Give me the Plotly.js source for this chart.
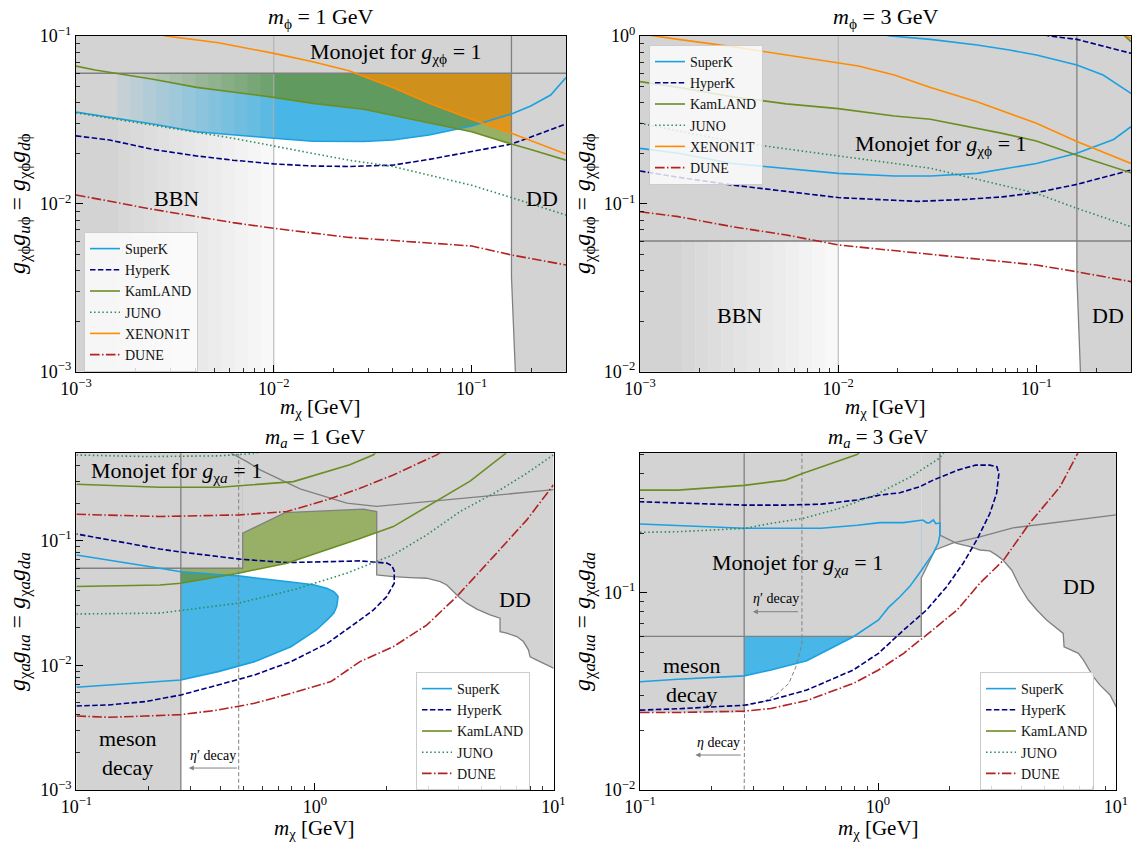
<!DOCTYPE html>
<html><head><meta charset="utf-8">
<script src="https://cdn.plot.ly/plotly-3.0.1.min.js"></script>
<style>html,body{margin:0;padding:0;background:#fff}#chart{width:1133px;height:843px}</style>
</head><body><div id="chart"></div>
<script>
// ---------------- DATA ----------------
// boundaries
const MONO = 0.06, BBN_EDGE = 0.01, BBN_START = 0.00163, MESON = 0.274, ETAP = 0.479;

// Panel A: m_phi = 1 GeV (top-left)
const A_superk_x = [0.001,0.00148,0.00245,0.00407,0.00622,0.01,0.01575,0.0285,0.0399,0.061,0.1,0.159,0.199,0.251,0.3];
const A_superk_y = [0.0352,0.0328,0.0299,0.0269,0.0257,0.0246,0.0236,0.0235,0.0240,0.0257,0.0291,0.0343,0.0383,0.0445,0.0565];
const A_hyperk_x = [0.001,0.00148,0.00245,0.00407,0.00622,0.01,0.01575,0.024,0.0399,0.061,0.1,0.159,0.3];
const A_hyperk_y = [0.0254,0.0240,0.0211,0.0193,0.0182,0.0173,0.0168,0.0167,0.0170,0.0184,0.0205,0.0227,0.0299];
const A_kam_x = [0.001,0.00125,0.00245,0.00407,0.01,0.01575,0.0285,0.061,0.1,0.159,0.199,0.3];
const A_kam_y = [0.0662,0.0627,0.0552,0.0494,0.0431,0.0397,0.0366,0.0305,0.0269,0.0227,0.0211,0.0182];
const A_juno_x = [0.001,0.00245,0.00622,0.01,0.024,0.0399,0.1,0.159,0.3];
const A_juno_y = [0.0349,0.0295,0.0246,0.0221,0.0182,0.0167,0.0129,0.0109,0.00858];
const A_xenon_x = [0.002,0.00284,0.00525,0.01,0.01575,0.024,0.0399,0.061,0.1,0.159,0.3];
const A_xenon_y = [0.112,0.1,0.0912,0.0788,0.0703,0.0621,0.0494,0.0397,0.0319,0.0263,0.0198];
const A_dune_x = [0.001,0.00245,0.00622,0.01,0.024,0.0399,0.1,0.159,0.3];
const A_dune_y = [0.0113,0.00927,0.00773,0.00715,0.00631,0.00604,0.00561,0.00496,0.00432];
const A_dd_x = [0.159,0.159,0.167];
const A_dd_y = [0.12,0.00368,0.0009];

// Panel B: m_phi = 3 GeV (top-right)
const B_superk_lo_x = [0.001,0.00156,0.00292,0.00548,0.01,0.0192,0.0292,0.0502,0.1,0.16,0.245,0.3];
const B_superk_lo_y = [0.214,0.200,0.174,0.163,0.152,0.1465,0.1465,0.152,0.174,0.200,0.242,0.288];
const B_superk_up_x = [0.015,0.0184,0.0292,0.0502,0.0731,0.1,0.16,0.217,0.3];
const B_superk_up_y = [1.04,1.0,0.955,0.884,0.825,0.77,0.672,0.586,0.455];
const B_hyperk_lo_x = [0.001,0.00156,0.00292,0.00548,0.01,0.0192,0.0253,0.0443,0.0673,0.1,0.16,0.3];
const B_hyperk_lo_y = [0.157,0.144,0.1295,0.118,0.109,0.105,0.1035,0.1064,0.110,0.1166,0.1306,0.159];
const B_hyperk_up_x = [0.1,0.116,0.16,0.3];
const B_hyperk_up_y = [1.05,1.0,0.955,0.789];
const B_kam_x = [0.001,0.00156,0.00292,0.00548,0.01,0.0192,0.0292,0.0502,0.0673,0.1,0.16,0.3];
const B_kam_y = [0.535,0.494,0.435,0.394,0.369,0.334,0.319,0.282,0.263,0.237,0.195,0.153];
const B_kam_up_x = [0.265,0.279,0.3];
const B_kam_up_y = [1.06,1.0,0.925];
const B_juno_x = [0.001,0.00292,0.01,0.0292,0.1,0.16,0.3];
const B_juno_y = [0.302,0.235,0.193,0.163,0.1155,0.094,0.0731];
const B_xenon_x = [0.001,0.00117,0.00156,0.00292,0.00548,0.01,0.01264,0.0192,0.0292,0.0502,0.1,0.16,0.3];
const B_xenon_y = [1.03,1.0,0.955,0.864,0.77,0.694,0.663,0.586,0.494,0.406,0.302,0.235,0.174];
const B_xenon_up_x = [0.27,0.284,0.3];
const B_xenon_up_y = [1.05,1.0,0.968];
const B_dune_x = [0.001,0.00156,0.00292,0.00548,0.01,0.0192,0.0292,0.0502,0.1,0.16,0.3];
const B_dune_y = [0.0898,0.0839,0.0731,0.0652,0.0569,0.0526,0.0496,0.0467,0.0432,0.0394,0.0344];
const B_dd_x = [0.16,0.16,0.167];
const B_dd_y = [1.2,0.0368,0.0095];

// Panel C: m_a = 1 GeV (bottom-left)
const C_superk_x = [0.1,0.137,0.195,0.274,0.393,0.558,0.793,1.014,1.145,1.20,1.234,1.25,1.234,1.20,1.12,0.985,0.793,0.558,0.478,0.393,0.274,0.224,0.1];
const C_superk_y = [0.00667,0.00696,0.00726,0.00762,0.0089,0.0107,0.0141,0.0192,0.0239,0.0262,0.0296,0.0356,0.0367,0.039,0.0415,0.0442,0.0465,0.0505,0.0521,0.0535,0.0562,0.060,0.0767];
const C_hyperk_x = [0.1,0.137,0.195,0.274,0.393,0.558,0.793,1.127,1.545,1.76,2.0,2.15,2.15,2.1,2.0,1.545,0.762,0.485,0.274,0.224,0.1];
const C_hyperk_y = [0.00472,0.00481,0.00512,0.00578,0.00696,0.00836,0.0107,0.015,0.0231,0.0278,0.0356,0.0455,0.057,0.063,0.066,0.0687,0.0666,0.071,0.081,0.0855,0.113];
const C_kam_lo_x = [0.1,0.224,0.274,0.478,0.762,1.12,1.545,2.13,3.14,4.47,6.3,7.2];
const C_kam_lo_y = [0.0428,0.0441,0.0455,0.0548,0.0659,0.0842,0.104,0.1295,0.1995,0.30,0.5,0.62];
const C_kam_up_x = [1.9,1.76,1.40,0.812,0.40,0.224,0.1];
const C_kam_up_y = [0.58,0.487,0.405,0.297,0.268,0.268,0.283];
const C_juno_lo_x = [0.1,0.224,0.478,0.812,1.36,2.13,2.94,4.06,5.97,7.73,10];
const C_juno_lo_y = [0.0258,0.0262,0.0315,0.0403,0.0548,0.0768,0.111,0.171,0.255,0.347,0.487];
const C_juno_up_x = [0.1,0.137,0.195,0.393,0.558,0.65];
const C_juno_up_y = [0.486,0.478,0.472,0.478,0.5,0.53];
const C_dune_lo_x = [0.1,0.137,0.195,0.274,0.393,0.558,0.793,1.167,1.545,2.13,2.94,3.93,5.6,7.73,10];
const C_dune_lo_y = [0.00392,0.00383,0.00392,0.00402,0.00438,0.00496,0.00596,0.0074,0.0107,0.0141,0.021,0.0356,0.0744,0.1466,0.28];
const C_dune_up_x = [0.1,0.224,0.485,0.762,1.12,1.545,2.13,3.24,3.6];
const C_dune_up_y = [0.1626,0.156,0.1607,0.171,0.212,0.263,0.336,0.487,0.56];
const C_plat_x = [0.09,0.498,0.498,0.749,1.596,1.815,1.815];
const C_plat_y = [0.06,0.06,0.1146,0.1677,0.1786,0.171,0.0531];
const C_dd_x = [2.13,2.50,2.94,3.35,3.57,3.75,3.99,4.33,4.77,5.42,5.97,5.97,6.37,7.02,7.48,7.85,7.98,8.51,9.37,10,10.5];
const C_dd_y = [0.0514,0.0505,0.0499,0.0469,0.0441,0.0402,0.0356,0.0315,0.0282,0.0254,0.0239,0.0186,0.0181,0.017,0.0155,0.0133,0.0117,0.011,0.0101,0.0095,0.0093];
const C_top_x = [0.43,0.448,0.518,0.589,0.866,1.36,1.815,10.5];
const C_top_y = [0.55,0.5,0.43,0.369,0.26,0.1995,0.188,0.258];

// Panel D: m_a = 3 GeV (bottom-right)
const D_superk_x = [0.1,0.144,0.274,0.355,0.502,0.788,1.005,1.105,1.237,1.363,1.5,1.6,1.71,1.79,1.82,1.82,1.75,1.708,1.64,1.6,1.544,1.277,1.02,0.817,0.577,0.274,0.144,0.1];
const D_superk_y = [0.0354,0.0364,0.0379,0.0406,0.0452,0.0598,0.0727,0.084,0.0954,0.108,0.1265,0.142,0.159,0.178,0.196,0.2255,0.2238,0.2336,0.2255,0.2265,0.2336,0.2265,0.2265,0.2196,0.212,0.212,0.2196,0.223];
const D_hyperk_x = [0.1,0.144,0.274,0.355,0.502,0.788,1.005,1.282,1.6,1.94,2.28,2.6,2.95,3.15,3.22,3.16,2.95,2.57,2.16,1.71,1.5,1.237,1.02,0.816,0.577,0.408,0.274,0.144,0.1];
const D_hyperk_y = [0.0254,0.0258,0.0269,0.0286,0.0321,0.0406,0.0493,0.0647,0.0817,0.107,0.141,0.185,0.252,0.319,0.40,0.435,0.443,0.443,0.418,0.3725,0.3445,0.321,0.3126,0.295,0.281,0.278,0.278,0.284,0.289];
const D_kam_x = [0.1,0.144,0.274,0.408,0.485,0.577,0.816,0.9];
const D_kam_y = [0.331,0.331,0.35,0.372,0.403,0.435,0.502,0.55];
const D_juno_x = [0.1,0.144,0.274,0.355,0.485,0.686,0.971,1.374,1.81,2.0];
const D_juno_y = [0.2022,0.2037,0.2118,0.2246,0.238,0.267,0.3126,0.387,0.48,0.56];
const D_dune_x = [0.1,0.144,0.274,0.355,0.502,0.788,1.005,1.282,1.63,2.15,2.68,3.37,4.33,5.82,6.9,7.3];
const D_dune_y = [0.0247,0.0247,0.0251,0.0259,0.0284,0.0347,0.0406,0.0493,0.0622,0.0817,0.1117,0.1464,0.2244,0.3444,0.508,0.58];
const D_meson_floor = 0.0247;
const D_mono_edge = 1.52;
const D_step_x = [0.09,1.52,1.52,1.736,2.07,2.68,3.69,5.82,10.5];
const D_step_y = [0.06,0.06,0.1187,0.1646,0.179,0.192,0.213,0.229,0.25];
const D_dd_x = [1.82,2.14,2.44,2.68,2.95,3.15,3.35,3.65,3.76,3.95,4.28,4.65,5.11,5.63,6.0,6.05,6.41,6.95,7.29,7.65,8.03,8.57,9.44,10,10.5];
const D_dd_y = [0.196,0.178,0.171,0.1646,0.163,0.155,0.1464,0.130,0.1205,0.1072,0.0918,0.0817,0.0727,0.066,0.0622,0.0532,0.0516,0.0493,0.0456,0.0414,0.0375,0.034,0.0303,0.0265,0.0255];
const D_eta_x = [0.479,0.479,0.468,0.452,0.422,0.38,0.331,0.275,0.274];
const D_eta_y = [0.6,0.055,0.0493,0.0421,0.0347,0.0309,0.028,0.0267,0.009];

// ticks
const xTopVals = [0.001,0.01,0.1], xTopText = ['10<sup>−3</sup>','10<sup>−2</sup>','10<sup>−1</sup>'];
const yAVals = [0.001,0.01,0.1], yAText = ['10<sup>−3</sup>','10<sup>−2</sup>','10<sup>−1</sup>'];
const yBVals = [0.01,0.1,1], yBText = ['10<sup>−2</sup>','10<sup>−1</sup>','10<sup>0</sup>'];
const xBotVals = [0.1,1,10], xBotText = ['10<sup>−1</sup>','10<sup>0</sup>','10<sup>1</sup>'];
const yCVals = [0.001,0.01,0.1], yCText = ['10<sup>−3</sup>','10<sup>−2</sup>','10<sup>−1</sup>'];
const yDVals = [0.01,0.1], yDText = ['10<sup>−2</sup>','10<sup>−1</sup>'];

// ---------------- STYLE ----------------
const SERIF = '"Liberation Serif", "DejaVu Serif", serif';
const GRAY = '#d3d3d3', GLINE = '#808080';
const BLUE_FILL = 'rgb(72,182,230)', GREEN_FILL = 'rgba(107,142,35,0.7)', ORANGE_FILL = 'rgba(255,140,0,0.7)';
const STY = {
  SuperK:  {color:'#1ba1e2', dash:'solid', width:1.6},
  HyperK:  {color:'#000080', dash:'5.5px,2.4px', width:1.6},
  KamLAND: {color:'#6b8e23', dash:'solid', width:1.6},
  JUNO:    {color:'#2e8b57', dash:'1.5px,2.6px', width:1.6},
  XENON1T: {color:'#ff8c00', dash:'solid', width:1.6},
  DUNE:    {color:'#b22222', dash:'9.6px,2.4px,1.5px,2.4px', width:1.6}
};
const L = Math.log10;

const traces = [];
function P(s){ return s===1 ? {xaxis:'x',yaxis:'y'} : {xaxis:'x'+s, yaxis:'y'+s}; }
function poly(s,x,y,color){ traces.push(Object.assign({type:'scatter',mode:'lines',x:x,y:y,fill:'toself',fillcolor:color,line:{width:0,color:color},hoverinfo:'skip',showlegend:false},P(s))); }
function gline(s,x,y,color,width,dash){ traces.push(Object.assign({type:'scatter',mode:'lines',x:x,y:y,line:{color:color,width:width,dash:dash||'solid'},hoverinfo:'skip',showlegend:false},P(s))); }
function curve(s,leg,name,x,y){ const st=STY[name]; traces.push(Object.assign({type:'scatter',mode:'lines',name:name,x:x,y:y,line:{color:st.color,width:st.width,dash:st.dash},legend:leg,showlegend:true,hoverinfo:'skip'},P(s))); }
function seg(a,b){ return a.concat([null],b); }
function bbn(s,ylo,yhi){
  poly(s,[0.0008,BBN_START,BBN_START,0.0008],[ylo,ylo,yhi,yhi],GRAY);
  const n=12, l0=L(BBN_START), l1=L(BBN_EDGE);
  for(let i=0;i<n;i++){
    const xa=Math.pow(10,l0+(l1-l0)*i/n), xb=Math.pow(10,l0+(l1-l0)*(i+1)/n);
    const a=0.9-(0.9-0.15)*i/(n-1);
    poly(s,[xa,xb,xb,xa],[ylo,ylo,yhi,yhi],'rgba(211,211,211,'+a.toFixed(3)+')');
  }
}

// ---- Panel A
poly(1, A_superk_x.concat([0.3,0.001]), A_superk_y.concat([1,1]), BLUE_FILL);
poly(1, A_kam_x.concat([0.3,0.001]), A_kam_y.concat([1,1]), GREEN_FILL);
poly(1, A_xenon_x.concat([0.3,0.002]), A_xenon_y.concat([1,1]), ORANGE_FILL);
poly(1, [0.0008,0.4,0.4,0.0008], [MONO,MONO,1,1], GRAY);
poly(1, A_dd_x.concat([0.4,0.4]), A_dd_y.concat([0.0009,0.12]), GRAY);
bbn(1, 0.0009, MONO);
gline(1, [BBN_EDGE,BBN_EDGE], [0.0009,0.12], '#b0b0b0', 1);
gline(1, [0.0008,0.4], [MONO,MONO], GLINE, 1.5);
gline(1, A_dd_x, A_dd_y, GLINE, 1.3);
curve(1,'legend','SuperK',A_superk_x,A_superk_y);
curve(1,'legend','HyperK',A_hyperk_x,A_hyperk_y);
curve(1,'legend','KamLAND',A_kam_x,A_kam_y);
curve(1,'legend','JUNO',A_juno_x,A_juno_y);
curve(1,'legend','XENON1T',A_xenon_x,A_xenon_y);
curve(1,'legend','DUNE',A_dune_x,A_dune_y);

// ---- Panel B
poly(2, [0.0008,0.4,0.4,0.0008], [MONO,MONO,1.2,1.2], GRAY);
poly(2, B_dd_x.concat([0.4,0.4]), B_dd_y.concat([0.0095,1.2]), GRAY);
bbn(2, 0.009, MONO);
gline(2, [BBN_EDGE,BBN_EDGE], [0.009,1.2], '#b0b0b0', 1);
gline(2, [0.0008,0.4], [MONO,MONO], GLINE, 1.5);
gline(2, B_dd_x, B_dd_y, GLINE, 1.3);
curve(2,'legend2','SuperK',seg(B_superk_lo_x,B_superk_up_x),seg(B_superk_lo_y,B_superk_up_y));
curve(2,'legend2','HyperK',seg(B_hyperk_lo_x,B_hyperk_up_x),seg(B_hyperk_lo_y,B_hyperk_up_y));
curve(2,'legend2','KamLAND',seg(B_kam_x,B_kam_up_x),seg(B_kam_y,B_kam_up_y));
curve(2,'legend2','JUNO',B_juno_x,B_juno_y);
curve(2,'legend2','XENON1T',seg(B_xenon_x,B_xenon_up_x),seg(B_xenon_y,B_xenon_up_y));
curve(2,'legend2','DUNE',B_dune_x,B_dune_y);

// ---- Panel C
poly(3, C_superk_x, C_superk_y, BLUE_FILL);
poly(3, C_kam_lo_x.concat(C_kam_up_x), C_kam_lo_y.concat(C_kam_up_y), GREEN_FILL);
poly(3, [0.09,MESON,MESON,0.09], [0.0009,0.0009,0.6,0.6], GRAY);
poly(3, [0.09,0.498,0.498,0.09], [MONO,MONO,0.6,0.6], GRAY);
poly(3, C_plat_x.slice(2).concat(C_dd_x,[10.5,0.498]), C_plat_y.slice(2).concat(C_dd_y,[0.6,0.6]), GRAY);
gline(3, [MESON,MESON], [0.0009,0.6], GLINE, 1.3);
gline(3, C_plat_x.concat(C_dd_x), C_plat_y.concat(C_dd_y), GLINE, 1.3);
gline(3, C_top_x, C_top_y, GLINE, 1.3);
gline(3, [ETAP,ETAP], [0.0009,0.6], GLINE, 1, '4px,2.5px');
curve(3,'legend3','SuperK',C_superk_x,C_superk_y);
curve(3,'legend3','HyperK',C_hyperk_x,C_hyperk_y);
curve(3,'legend3','KamLAND',seg(C_kam_lo_x,C_kam_up_x),seg(C_kam_lo_y,C_kam_up_y));
curve(3,'legend3','JUNO',seg(C_juno_lo_x,C_juno_up_x),seg(C_juno_lo_y,C_juno_up_y));
curve(3,'legend3','DUNE',seg(C_dune_lo_x,C_dune_up_x),seg(C_dune_lo_y,C_dune_up_y));

// ---- Panel D
poly(4, D_superk_x, D_superk_y, BLUE_FILL);
poly(4, [0.09,MESON,MESON,0.09], [D_meson_floor,D_meson_floor,0.6,0.6], GRAY);
poly(4, [0.09,D_mono_edge,D_mono_edge,0.09], [MONO,MONO,0.6,0.6], GRAY);
poly(4, D_step_x.slice(2,5).concat(D_dd_x.slice(1),[10.5,D_mono_edge]), D_step_y.slice(2,5).concat(D_dd_y.slice(1),[0.6,0.6]), GRAY);
gline(4, [MESON,MESON], [D_meson_floor,0.6], GLINE, 1.3);
gline(4, D_step_x, D_step_y, GLINE, 1.3);
gline(4, [1.82].concat(D_dd_x), [0.6].concat(D_dd_y), GLINE, 1.3);
gline(4, D_eta_x, D_eta_y, GLINE, 1, '4px,2.5px');
curve(4,'legend4','SuperK',D_superk_x,D_superk_y);
curve(4,'legend4','HyperK',D_hyperk_x,D_hyperk_y);
curve(4,'legend4','KamLAND',D_kam_x,D_kam_y);
curve(4,'legend4','JUNO',D_juno_x,D_juno_y);
curve(4,'legend4','DUNE',D_dune_x,D_dune_y);

// ---------------- LAYOUT ----------------
function minors(lo,hi){ const v=[]; for(let e=lo;e<hi;e++) for(let m=2;m<=9;m++) v.push(m*Math.pow(10,e)); return v; }
function axis(range,domain,anchor,vals,text,mv){
  return {type:'log',range:range,domain:domain,anchor:anchor,showgrid:false,zeroline:false,showline:true,
    linecolor:'#000',linewidth:1.2,mirror:true,ticks:'inside',ticklen:7,tickwidth:1,tickcolor:'#000',
    tickmode:'array',tickvals:vals,ticktext:text,tickfont:{family:SERIF,size:18,color:'#000'},
    minor:{ticks:'inside',ticklen:4,tickwidth:0.8,tickcolor:'#000',tickmode:'array',tickvals:mv,showgrid:false}};
}
const W=1133, H=843;
const dxA=[76/W,566/W], dxB=[640/W,1131/W], dxC=[76.4/W,553.5/W], dxD=[640/W,1116/W];
const dyTop=[1-371.7/H,1-36/H], dyBot=[1-790/H,1-453.3/H];

function legendAt(x,y){ return {x:x,y:y,xanchor:'left',yanchor:'top',bgcolor:'rgba(255,255,255,0.8)',bordercolor:'#cccccc',borderwidth:1,font:{family:SERIF,size:14,color:'#111'},itemwidth:30,tracegroupgap:0}; }

function ptxt(x,y,text,size,angle){ return {xref:'paper',yref:'paper',x:x,y:y,text:text,showarrow:false,xanchor:'center',yanchor:'middle',font:{family:SERIF,size:size,color:'#000'},textangle:angle||0}; }
function dtxt(s,x,y,text,size){ const r=s===1?'':s; return {xref:'x'+r,yref:'y'+r,x:L(x),y:L(y),text:text,showarrow:false,xanchor:'center',yanchor:'middle',font:{family:SERIF,size:size,color:'#000'}}; }
function darrow(s,xTail,xHead,y){ const r=s===1?'':s; return {xref:'x'+r,yref:'y'+r,axref:'x'+r,ayref:'y'+r,x:L(xHead),y:L(y),ax:L(xTail),ay:L(y),text:'',showarrow:true,arrowhead:2,arrowsize:1,arrowwidth:1,arrowcolor:GLINE}; }

const yTitlePhi = '<i>g</i><sub>χϕ</sub><i>g</i><sub><i>u</i>ϕ</sub> = <i>g</i><sub>χϕ</sub><i>g</i><sub><i>d</i>ϕ</sub>';
const yTitleA = '<i>g</i><sub>χ<i>a</i></sub><i>g</i><sub><i>ua</i></sub> = <i>g</i><sub>χ<i>a</i></sub><i>g</i><sub><i>da</i></sub>';
const xTitle = '<i>m</i><sub>χ</sub> [GeV]';

const annotations = [
  ptxt(321/W,1-18/H,'<i>m</i><sub>ϕ</sub> = 1 GeV',22),
  ptxt(885.5/W,1-18/H,'<i>m</i><sub>ϕ</sub> = 3 GeV',22),
  ptxt(315/W,1-438/H,'<i>m</i><sub><i>a</i></sub> = 1 GeV',21),
  ptxt(878/W,1-438/H,'<i>m</i><sub><i>a</i></sub> = 3 GeV',21),
  ptxt(320/W,1-408/H,xTitle,21), ptxt(885/W,1-408/H,xTitle,21),
  ptxt(314.5/W,1-829/H,xTitle,21), ptxt(878/W,1-829/H,xTitle,21),
  ptxt(19/W,1-204/H,yTitlePhi,24,-90), ptxt(584/W,1-204/H,yTitlePhi,24,-90),
  ptxt(19/W,1-622/H,yTitleA,24,-90), ptxt(584/W,1-622/H,yTitleA,24,-90),
  dtxt(1,0.0413,0.0792,'Monojet for <i>g</i><sub>χϕ</sub> = 1',22),
  dtxt(1,0.00322,0.0107,'BBN',22),
  dtxt(1,0.2268,0.0107,'DD',22),
  dtxt(2,0.0331,0.224,'Monojet for <i>g</i><sub>χϕ</sub> = 1',22),
  dtxt(2,0.00318,0.0217,'BBN',22),
  dtxt(2,0.229,0.0217,'DD',22),
  dtxt(3,0.2624,0.3535,'Monojet for <i>g</i><sub>χ<i>a</i></sub> = 1',22),
  dtxt(3,0.1634,0.00198,'meson<br>decay',22),
  dtxt(3,6.87,0.0335,'DD',22),
  dtxt(3,0.3727,0.00188,'<i>η</i>′ decay',14),
  darrow(3,0.478,0.296,0.0015),
  dtxt(4,0.46,0.1398,'Monojet for <i>g</i><sub>χ<i>a</i></sub> = 1',22),
  dtxt(4,0.164,0.0361,'meson<br>decay',22),
  dtxt(4,6.96,0.108,'DD',22),
  dtxt(4,0.3735,0.0937,'<i>η</i>′ decay',14),
  darrow(4,0.468,0.298,0.0801),
  dtxt(4,0.2145,0.0174,'<i>η</i> decay',14),
  darrow(4,0.269,0.171,0.01504)
];

const layout = {
  width:W, height:H, margin:{l:0,r:0,t:0,b:0}, paper_bgcolor:'#fff', plot_bgcolor:'#fff',
  font:{family:SERIF},
  showlegend:true, hovermode:false,
  xaxis:  axis([-3,L(0.3)],dxA,'y',xTopVals,xTopText,minors(-3,0)),
  yaxis:  axis([-3,-1],dyTop,'x',yAVals,yAText,minors(-3,-1)),
  xaxis2: axis([-3,L(0.3)],dxB,'y2',xTopVals,xTopText,minors(-3,0)),
  yaxis2: axis([-2,0],dyTop,'x2',yBVals,yBText,minors(-2,0)),
  xaxis3: axis([-1,1],dxC,'y3',xBotVals,xBotText,minors(-1,1)),
  yaxis3: axis([-3,-0.30],dyBot,'x3',yCVals,yCText,minors(-3,0)),
  xaxis4: axis([-1,1],dxD,'y4',xBotVals,xBotText,minors(-1,1)),
  yaxis4: axis([-2,-0.2935],dyBot,'x4',yDVals,yDText,minors(-2,0)),
  legend:  legendAt(84/W,1-232/H),
  legend2: legendAt(649/W,1-45/H),
  legend3: legendAt(416/W,1-672/H),
  legend4: legendAt(980/W,1-672/H),
  annotations: annotations
};

Plotly.newPlot('chart', traces, layout, {staticPlot:true, displayModeBar:false});
</script></body></html>
